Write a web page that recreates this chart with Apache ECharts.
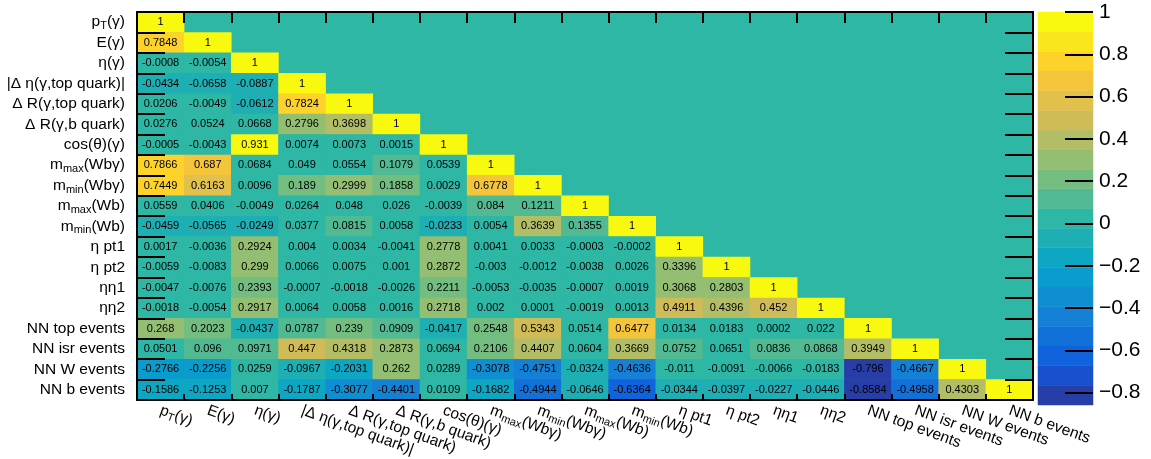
<!DOCTYPE html>
<html><head><meta charset="utf-8">
<script src="https://cdn.jsdelivr.net/npm/echarts@6/dist/echarts.min.js"></script>
<style>html,body{margin:0;padding:0;background:#fff}#c{width:1151px;height:459px}</style>
</head><body><div id="c"></div>
<script>
// Variable names (row/column order, top to bottom / left to right)
const labels = ['p_{T}(γ)', 'E(γ)', 'η(γ)', '|Δ η(γ,top quark)|', 'Δ R(γ,top quark)', 'Δ R(γ,b quark)',
  'cos(θ)(γ)', 'm_{max}(Wbγ)', 'm_{min}(Wbγ)', 'm_{max}(Wb)', 'm_{min}(Wb)', 'η pt1', 'η pt2',
  'ηη1', 'ηη2', 'NN top events', 'NN isr events', 'NN W events', 'NN b events'];

// Lower-triangle correlation rows
const row00 = [1];
const row01 = [0.7848, 1];
const row02 = [-0.0008, -0.0054, 1];
const row03 = [-0.0434, -0.0658, -0.0887, 1];
const row04 = [0.0206, -0.0049, -0.0612, 0.7824, 1];
const row05 = [0.0276, 0.0524, 0.0668, 0.2796, 0.3698, 1];
const row06 = [-0.0005, -0.0043, 0.931, 0.0074, 0.0073, 0.0015, 1];
const row07 = [0.7866, 0.687, 0.0684, 0.049, 0.0554, 0.1079, 0.0539, 1];
const row08 = [0.7449, 0.6163, 0.0096, 0.189, 0.2999, 0.1858, 0.0029, 0.6778, 1];
const row09 = [0.0559, 0.0406, -0.0049, 0.0264, 0.048, 0.026, -0.0039, 0.084, 0.1211, 1];
const row10 = [-0.0459, -0.0565, -0.0249, 0.0377, 0.0815, 0.0058, -0.0233, 0.0054, 0.3639, 0.1355, 1];
const row11 = [0.0017, -0.0036, 0.2924, 0.004, 0.0034, -0.0041, 0.2778, 0.0041, 0.0033, -0.0003, -0.0002, 1];
const row12 = [-0.0059, -0.0083, 0.299, 0.0066, 0.0075, 0.001, 0.2872, -0.003, -0.0012, -0.0038, 0.0026, 0.3396, 1];
const row13 = [-0.0047, -0.0076, 0.2393, -0.0007, -0.0018, -0.0026, 0.2211, -0.0053, -0.0035, -0.0007, 0.0019, 0.3068, 0.2803, 1];
const row14 = [-0.0018, -0.0054, 0.2917, 0.0064, 0.0058, 0.0016, 0.2718, 0.002, 0.0001, -0.0019, 0.0013, 0.4911, 0.4396, 0.452, 1];
const row15 = [0.268, 0.2023, -0.0437, 0.0787, 0.239, 0.0909, -0.0417, 0.2548, 0.5343, 0.0514, 0.6477, 0.0134, 0.0183, 0.0002, 0.022, 1];
const row16 = [0.0501, 0.096, 0.0971, 0.447, 0.4318, 0.2873, 0.0694, 0.2106, 0.4407, 0.0604, 0.3669, 0.0752, 0.0651, 0.0836, 0.0868, 0.3949, 1];
const row17 = [-0.2766, -0.2256, 0.0259, -0.0967, -0.2031, 0.262, 0.0289, -0.3078, -0.4751, -0.0324, -0.4636, -0.011, -0.0091, -0.0066, -0.0183, -0.796, -0.4667, 1];
const row18 = [-0.1586, -0.1253, 0.007, -0.1787, -0.3077, -0.4401, 0.0109, -0.1682, -0.4944, -0.0646, -0.6364, -0.0344, -0.0397, -0.0227, -0.0446, -0.8584, -0.4958, 0.4303, 1];

// Colour bar tick labels
const colorbarTicks = [-0.8, -0.6, -0.4, -0.2, 0, 0.2, 0.4, 0.6, 0.8, 1];

const rows = [row00,row01,row02,row03,row04,row05,row06,row07,row08,row09,row10,row11,row12,row13,row14,row15,row16,row17,row18];

// ---- ROOT kBird palette, 20 contour levels ----
const nLevels = 20;
let zMin = Infinity, zMax = -Infinity;
rows.forEach(r => r.forEach(v => { zMin = Math.min(zMin, v); zMax = Math.max(zMax, v); }));
const stops = [0.0, 0.125, 0.25, 0.375, 0.5, 0.625, 0.75, 0.875, 1.0];
const red   = [0.2082, 0.0592, 0.0780, 0.0232, 0.1802, 0.5301, 0.8186, 0.9956, 0.9764];
const green = [0.1664, 0.3599, 0.5041, 0.6419, 0.7178, 0.7492, 0.7328, 0.7862, 0.9832];
const blue  = [0.5293, 0.8684, 0.8385, 0.7914, 0.6425, 0.4662, 0.3499, 0.1968, 0.0539];
function bird(f) {
  let k = 0;
  while (k < stops.length - 2 && f > stops[k + 1]) k++;
  const t = (f - stops[k]) / (stops[k + 1] - stops[k]);
  const c = a => Math.round(255 * (a[k] + (a[k + 1] - a[k]) * t));
  return 'rgb(' + c(red) + ',' + c(green) + ',' + c(blue) + ')';
}
const bandColors = [], levels = [];
for (let i = 0; i < nLevels; i++) {
  const idx = Math.floor((i + 0.99) * 255 / nLevels);
  bandColors.push(bird(idx / 255));
  levels.push(zMin + (zMax - zMin) * i / nLevels);
}
levels.push(zMax);
const pieces = bandColors.map((c, i) => i === nLevels - 1
  ? { gte: levels[i], lte: levels[i + 1] + 1e-9, color: c }
  : { gte: levels[i], lt: levels[i + 1], color: c });
const zeroBand = Math.min(nLevels - 1, Math.floor((0 - zMin) / (zMax - zMin) * nLevels));

const cells = [];
rows.forEach((r, y) => r.forEach((v, x) => cells.push([x, y, v])));
const bands = bandColors.map((c, i) => [levels[i], levels[i + 1], i]);

const FONT = '"Liberation Sans", Arial, Helvetica, sans-serif';
function richLabel(s) {
  return s.replace(/_\{([^}]*)\}/g, '{s|$1}');
}
const richSub = { s: { fontSize: 11, fontFamily: FONT, color: '#000', verticalAlign: 'bottom', padding: [8, 0, 0, 0] } };
const axisLineStyle = { show: true, onZero: false, lineStyle: { color: '#000', width: 2 } };
const tickStyle = { color: '#000', width: 2 };
const AXZ = 10;

const chart = echarts.init(document.getElementById('c'), null, { renderer: 'canvas' });
chart.setOption({
  animation: false,
  backgroundColor: '#fff',
  grid: [
    { left: 137, right: 118, top: 12, bottom: 54, show: true, backgroundColor: bandColors[zeroBand], borderWidth: 0 },
    { left: 1038, right: 58, top: 12, bottom: 54 }
  ],
  xAxis: [
    { type: 'category', gridIndex: 0, position: 'bottom', data: labels, z: AXZ,
      axisLine: axisLineStyle,
      axisTick: { show: true, inside: true, length: 6, lineStyle: tickStyle, interval: 0 },
      axisLabel: { interval: 0, rotate: -20, margin: 10, fontSize: 15.5, color: '#000', fontFamily: FONT,
        formatter: richLabel, rich: richSub },
      splitLine: { show: false } },
    { type: 'category', gridIndex: 0, position: 'top', data: labels, z: AXZ,
      axisLine: axisLineStyle,
      axisTick: { show: true, inside: true, length: 11, lineStyle: tickStyle, interval: 0 },
      axisLabel: { show: false }, splitLine: { show: false } },
    { type: 'value', gridIndex: 1, min: 0, max: 1, show: false, axisLine: { onZero: false } }
  ],
  yAxis: [
    { type: 'category', gridIndex: 0, position: 'left', inverse: true, data: labels, z: AXZ,
      axisLine: axisLineStyle,
      axisTick: { show: true, inside: true, length: 28, lineStyle: tickStyle, interval: 0 },
      axisLabel: { interval: 0, margin: 12, fontSize: 15.5, color: '#000', fontFamily: FONT,
        formatter: richLabel, rich: richSub },
      splitLine: { show: false } },
    { type: 'category', gridIndex: 0, position: 'right', inverse: true, data: labels, z: AXZ,
      axisLine: axisLineStyle,
      axisTick: { show: true, inside: true, length: 28, lineStyle: tickStyle, interval: 0 },
      axisLabel: { show: false }, splitLine: { show: false } },
    { type: 'value', gridIndex: 1, position: 'right', min: zMin, max: zMax, z: AXZ,
      axisLine: { show: false, onZero: false },
      axisTick: { show: true, inside: true, length: 28, customValues: colorbarTicks, lineStyle: tickStyle },
      axisLabel: { customValues: colorbarTicks, margin: 6, fontSize: 21, color: '#000', fontFamily: FONT,
        formatter: v => (v < 0 ? '\u2212' + Math.abs(v) : String(v)) },
      splitLine: { show: false } }
  ],
  visualMap: { type: 'piecewise', show: false, seriesIndex: 0, dimension: 2, pieces: pieces },
  series: [
    { type: 'heatmap', xAxisIndex: 0, yAxisIndex: 0, data: cells, silent: true,
      label: { show: true, fontSize: 11, color: '#000', fontFamily: FONT,
        formatter: p => String(p.value[2]) },
      emphasis: { disabled: true } },
    { type: 'custom', xAxisIndex: 2, yAxisIndex: 2, data: bands, silent: true, clip: false,
      encode: { y: [0, 1] },
      renderItem: (params, api) => {
        const lo = api.value(0), hi = api.value(1), i = api.value(2);
        const p0 = api.coord([0, hi]), p1 = api.coord([1, lo]);
        return { type: 'rect', shape: { x: p0[0], y: p0[1], width: p1[0] - p0[0], height: p1[1] - p0[1] },
          style: { fill: bandColors[i], stroke: bandColors[i], lineWidth: 0.5 } };
      } }
  ]
});
</script></body></html>
